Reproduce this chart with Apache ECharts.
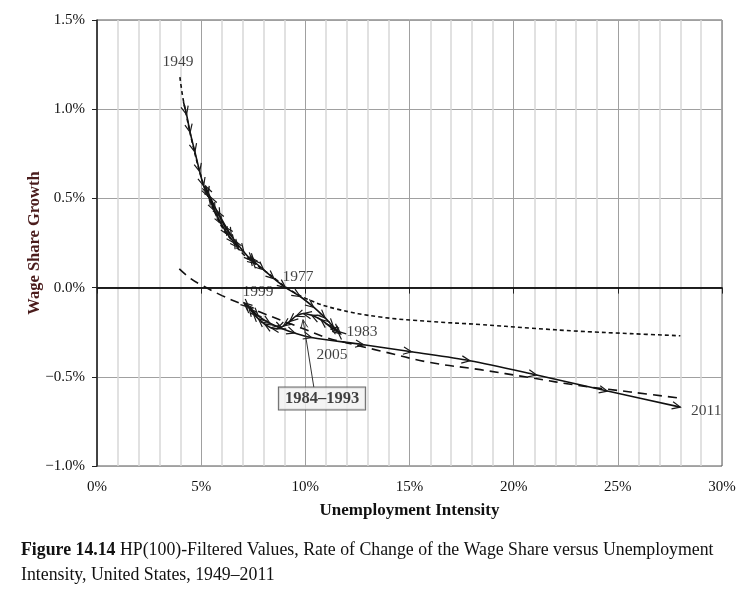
<!DOCTYPE html>
<html>
<head>
<meta charset="utf-8">
<script src="https://cdn.jsdelivr.net/npm/echarts/dist/echarts.min.js"></script>
<style>html,body{margin:0;padding:0;background:#fff;}#c{width:753px;height:603px;}</style>
</head>
<body>
<div id="c"></div>
<script>
// ---- data ----
const xTickLabels = ['0%', '5%', '10%', '15%', '20%', '25%', '30%'];
const yTickValues = [-1.0, -0.5, 0.0, 0.5, 1.0, 1.5];
const yTickLabels = ['\u22121.0%', '\u22120.5%', '0.0%', '0.5%', '1.0%', '1.5%'];

// HP-filtered path, 1949..2011 (x = unemployment intensity %, y = wage share growth %)
const pathYears = [];
for (let yr = 1949; yr <= 2011; yr++) pathYears.push(yr);
const pathX = [4.15, 4.30, 4.47, 4.70, 4.93, 5.12, 5.35, 5.65, 5.98, 6.30,
  6.60, 6.78, 6.60, 6.15, 5.75, 5.42, 5.20, 5.35, 5.90, 6.45,
  7.05, 7.45, 7.62, 7.45, 7.35, 7.55, 8.00, 8.50, 9.05, 9.75,
  10.40, 10.95, 11.35, 11.60, 11.70, 11.55, 11.20, 10.75, 10.30, 9.90,
  9.55, 9.25, 8.95, 8.65, 8.35, 8.05, 7.75, 7.50, 7.30, 7.15,
  7.05, 7.30, 7.75, 8.30, 8.90, 9.50, 10.30, 12.80, 15.10, 17.90,
  21.10, 24.50, 28.00];
const pathY = [1.04, 0.97, 0.87, 0.76, 0.65, 0.57, 0.51, 0.43, 0.355, 0.295,
  0.25, 0.225, 0.265, 0.34, 0.43, 0.51, 0.57, 0.52, 0.40, 0.29,
  0.20, 0.15, 0.135, 0.155, 0.17, 0.145, 0.10, 0.05, 0.00, -0.05,
  -0.11, -0.17, -0.22, -0.25, -0.26, -0.245, -0.22, -0.18, -0.155, -0.145,
  -0.16, -0.19, -0.215, -0.23, -0.225, -0.205, -0.175, -0.145, -0.115, -0.095,
  -0.085, -0.11, -0.16, -0.20, -0.23, -0.255, -0.28, -0.32, -0.36, -0.41,
  -0.49, -0.58, -0.67];

// fitted curve through 1949-1983 (short dashes)
const upperFitX = [3.98, 4.1, 4.3, 4.6, 5.0, 5.3, 5.7, 6.0, 6.5, 7.0, 7.5, 8.1, 8.6, 9.1, 10.1, 11.5, 13.6, 16.0, 18.4, 20.8, 23.2, 25.6, 28.0];
const upperFitY = [1.18, 1.08, 0.96, 0.80, 0.62, 0.52, 0.41, 0.34, 0.26, 0.19, 0.14, 0.09, 0.045, 0.0, -0.065, -0.12, -0.165, -0.19, -0.207, -0.227, -0.245, -0.258, -0.27];

// fitted curve through 1984-2011 (long dashes)
const lowerFitX = [3.95, 4.5, 5.0, 6.0, 7.0, 8.0, 9.0, 10.0, 11.0, 12.0, 13.6, 16.0, 18.4, 20.8, 23.2, 25.6, 28.0];
const lowerFitY = [0.105, 0.05, 0.015, -0.045, -0.095, -0.145, -0.19, -0.235, -0.28, -0.31, -0.355, -0.42, -0.46, -0.505, -0.55, -0.585, -0.62];

// year labels placed in data coordinates
const yearLabelText = ['1949', '1977', '1999', '1983', '2005', '2011'];
const yearLabelX = [3.89, 9.65, 7.73, 12.72, 11.28, 29.24];
const yearLabelY = [1.267, 0.062, -0.022, -0.247, -0.376, -0.689];

const boxLabel = '1984\u20131993';
const boxPos = [10.8, -0.622];
const boxArrowFrom = [10.41, -0.56];
const boxArrowTo = [9.89, -0.18];

// ---- chart ----
const serif = '"Liberation Serif", "DejaVu Serif", serif';
const zip = (a, b) => a.map((v, i) => [v, b[i]]);
const chart = echarts.init(document.getElementById('c'), null, {renderer: 'canvas'});

function chevron(p, q, L, s, color, w) {
  const a = Math.atan2(p[1] - q[1], p[0] - q[0]);
  const l = [p[0] - L * Math.cos(a - s), p[1] - L * Math.sin(a - s)];
  const r = [p[0] - L * Math.cos(a + s), p[1] - L * Math.sin(a + s)];
  return {type: 'polyline', shape: {points: [l, p, r]}, style: {stroke: color, lineWidth: w, fill: null}};
}

function arrowItem(params, api) {
  const i = params.dataIndex;
  if (i === 0) return null;
  const p = api.coord([pathX[i], pathY[i]]);
  const q = api.coord([pathX[i - 1], pathY[i - 1]]);
  return chevron(p, q, 9, 0.42, '#1a1a1a', 1.2);
}

chart.setOption({
  animation: false,
  backgroundColor: '#fff',
  textStyle: {fontFamily: serif, color: '#111'},
  grid: {left: 97, right: 31, top: 20, bottom: 137, show: true, borderColor: '#555', borderWidth: 1},
  xAxis: {
    type: 'value', min: 0, max: 30, interval: 5,
    name: 'Unemployment Intensity', nameLocation: 'middle', nameGap: 36, nameMoveOverlap: false,
    nameTextStyle: {fontFamily: serif, fontWeight: 'bold', fontSize: 17, color: '#111'},
    axisLine: {show: true, lineStyle: {color: '#222', width: 1.5}},
    axisTick: {show: true, length: 6, lineStyle: {color: '#222'}},
    axisLabel: {fontFamily: serif, fontSize: 15, color: '#111', margin: 14,
      formatter: v => xTickLabels[Math.round(v / 5)]},
    splitLine: {show: true, lineStyle: {color: '#a0a0a0', width: 1}},
    minorTick: {show: false, splitNumber: 5},
    minorSplitLine: {show: true, lineStyle: {color: '#d8d8d8', width: 1.5}}
  },
  yAxis: {
    type: 'value', min: -1.0, max: 1.5, interval: 0.5,
    name: 'Wage Share Growth', nameLocation: 'middle', nameGap: 54, nameRotate: 90, nameMoveOverlap: false,
    nameTextStyle: {fontFamily: serif, fontWeight: 'bold', fontSize: 16.5, color: '#4a1c1c'},
    axisLine: {show: true, lineStyle: {color: '#222', width: 1.5}},
    axisTick: {show: true, length: 5, lineStyle: {color: '#222'}},
    axisLabel: {fontFamily: serif, fontSize: 15, color: '#111', margin: 12,
      formatter: v => yTickLabels[Math.round((v - yTickValues[0]) / 0.5)]},
    splitLine: {show: true, lineStyle: {color: '#a0a0a0', width: 1}}
  },
  series: [
    {
      type: 'line', data: zip(upperFitX, upperFitY), showSymbol: false, smooth: 0.4,
      lineStyle: {color: '#111', width: 1.6, type: [4, 3]}, z: 2, silent: true,
      markLine: {
        silent: true, symbol: 'none', label: {show: false},
        lineStyle: {color: '#111', width: 1.7, type: 'solid'},
        data: [{yAxis: 0}]
      }
    },
    {
      type: 'line', data: zip(lowerFitX, lowerFitY), showSymbol: false, smooth: 0.4,
      lineStyle: {color: '#111', width: 1.6, type: [9, 6]}, z: 2, silent: true
    },
    {
      type: 'line', data: zip(pathX, pathY), showSymbol: false, smooth: 0.3,
      lineStyle: {color: '#111', width: 1.6}, z: 3, silent: true
    },
    {
      type: 'custom', renderItem: arrowItem, data: zip(pathX, pathY),
      encode: {x: 0, y: 1}, z: 4, silent: true, clip: true
    },
    {
      type: 'line', data: [boxArrowFrom, boxArrowTo], showSymbol: false, symbol: 'none',
      lineStyle: {color: '#333', width: 1}, z: 5, silent: true
    },
    {
      type: 'custom', silent: true, z: 5,
      data: [boxArrowTo],
      encode: {x: 0, y: 1},
      renderItem: function (params, api) {
        return chevron(api.coord(boxArrowTo), api.coord(boxArrowFrom), 9, 0.4, '#333', 1);
      }
    },
    {
      type: 'scatter', symbolSize: 0, z: 6, silent: true,
      data: yearLabelText.map((t, i) => ({value: [yearLabelX[i], yearLabelY[i]], name: t})),
      label: {show: true, position: 'inside', formatter: p => p.name,
        fontFamily: serif, fontSize: 15.5, color: '#111'}
    },
    {
      type: 'scatter', symbolSize: 0, z: 7, silent: true,
      data: [{value: boxPos, name: boxLabel}],
      label: {show: true, position: 'inside', formatter: p => p.name,
        fontFamily: serif, fontSize: 16.5, fontWeight: 'bold', color: '#111',
        backgroundColor: '#f1f1f1', borderColor: '#444', borderWidth: 1, padding: [3, 6, 2, 6]}
    }
  ],
  graphic: [
    {
      type: 'text', left: 21, top: 541,
      style: {
        text: '{b|Figure 14.14} HP(100)-Filtered Values, Rate of Change of the Wage Share versus Unemployment',
        font: '17.8px ' + serif, fill: '#111',
        rich: {b: {fontWeight: 'bold', fontFamily: serif, fontSize: 17.8, fill: '#111'}}
      }
    },
    {
      type: 'text', left: 21, top: 566,
      style: {text: 'Intensity, United States, 1949\u20132011', font: '17.8px ' + serif, fill: '#111'}
    }
  ]
});
</script>
</body>
</html>
